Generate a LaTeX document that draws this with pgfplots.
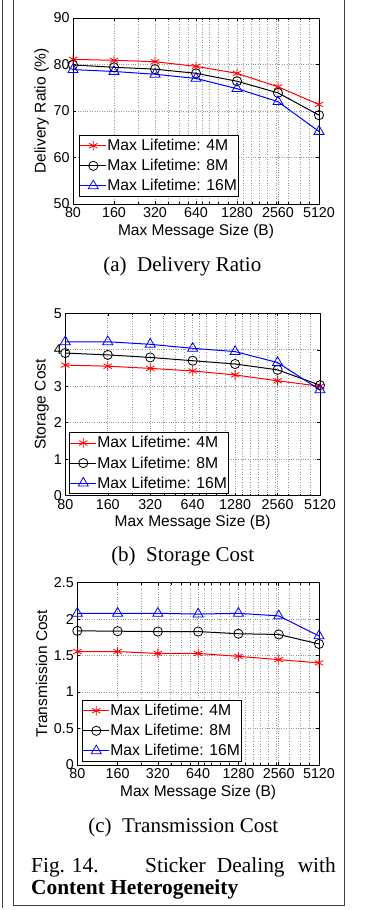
\documentclass[border=0pt]{standalone}
\usepackage{pgfplots}
\pgfplotsset{compat=1.18}
\usepackage{fontspec}
\setmainfont{Liberation Serif}
\newfontfamily\arial{Liberation Sans}
\definecolor{framegray}{HTML}{404040}

\pgfplotsset{
  mystyle/.style={
    scale only axis,
    xmin=0, xmax=6,
    xtick={0,1,2,3,4,5,6},
    xticklabels={80,160,320,640,1280,2560,5120},
    minor xtick={1.585,2.32,2.585,2.807,3.15,3.32,3.55,3.78,4.16,4.36,4.55,4.75,4.95,5.26,5.54,5.77},
    xmajorgrids, xminorgrids, ymajorgrids,
    grid style={dotted, gray!80, line width=0.6pt},
    minor grid style={dotted, gray!80, line width=0.6pt},
    tick align=inside,
    major tick length=3pt, minor tick length=2pt,
    axis line style={line width=0.6pt},
    every tick/.style={black, line width=0.5pt},
    tick label style={font=\fontsize{14.3}{16}\selectfont\arial},
    /pgf/number format/assume math mode=true,
    /pgf/number format/.cd, fixed, precision=1, /pgfplots/.cd,
    xlabel={Max Message Size (B)},
    every axis x label/.style={at={(axis description cs:0.5,0)}, anchor=center, yshift=-27pt, font=\fontsize{15.5}{17}\selectfont\arial},
    legend cell align=left,
    legend style={font=\fontsize{15.7}{17}\selectfont\arial, anchor=south west,
      inner sep=0.5pt, draw=black, line width=0.6pt, row sep=0pt,
      nodes={inner xsep=0.5pt, inner ysep=3.6pt}},
    legend image code/.code={\draw[mark repeat=2,mark phase=2,#1] plot coordinates {(0pt,0pt) (13pt,0pt) (26pt,0pt)};},
  },
  ylab/.style={every axis y label/.style={at={(axis description cs:0,0.5)}, anchor=center, xshift=#1, rotate=90, font=\fontsize{15.5}{17}\selectfont\arial}},
  s4/.style={red, line width=1pt, mark=asterisk, mark size=4.8pt, mark options={solid, line width=0.8pt}},
  s8/.style={black, line width=1pt, mark=o, mark size=4.6pt, mark options={solid, line width=0.8pt}},
  s16/.style={blue, line width=1pt, mark=triangle, mark size=5.8pt, mark options={solid, line width=0.8pt}},
}

\pgfplotstableread{
x a4 a8 a16
0 81.1 79.9 78.9
1 80.9 79.4 78.5
2 80.6 79.0 77.9
3 79.6 78.1 77.0
4 78.1 76.4 74.8
5 75.2 73.9 72.0
6 71.4 69.1 65.6
}\tabA

\pgfplotstableread{
x b4 b8 b16
0 3.58 3.91 4.22
1 3.55 3.86 4.22
2 3.49 3.79 4.15
3 3.42 3.70 4.04
4 3.31 3.61 3.95
5 3.15 3.45 3.65
6 3.00 3.03 2.90
}\tabB

\pgfplotstableread{
x c4 c8 c16
0 1.555 1.840 2.080
1 1.555 1.835 2.080
2 1.530 1.830 2.080
3 1.530 1.830 2.070
4 1.490 1.800 2.080
5 1.445 1.790 2.045
6 1.400 1.660 1.770
}\tabC

\begin{document}
\begin{tikzpicture}[x=1pt,y=1pt]
\useasboundingbox (0,0) rectangle (366,910);
\fill[white] (0,0) rectangle (366,910);
% frames
\draw[framegray, line width=1pt] (2.7,910) -- (2.7,2);
\draw[framegray, line width=1.2pt] (13.3,910) -- (13.3,4.5) -- (344.3,4.5) -- (344.3,910);

% (a)
\begin{axis}[mystyle, at={(73pt,706pt)}, anchor=south west, width=246pt, height=186pt,
  ymin=50, ymax=90, ytick={50,60,70,80,90},
  ylabel={Delivery Ratio (\%)}, ylab=-31.3pt,
  legend style={at={(axis description cs:0.0244,0.039)}}]
\addplot[s4] table[x=x,y=a4] {\tabA};
\addplot[s8] table[x=x,y=a8] {\tabA};
\addplot[s16] table[x=x,y=a16] {\tabA};
\legend{Max Lifetime: 4M, Max Lifetime: 8M, Max Lifetime: 16M}
\end{axis}

% (b)
\begin{axis}[mystyle, at={(65.3pt,414.3pt)}, anchor=south west, width=254.7pt, height=182.4pt,
  ymin=0, ymax=5, ytick={0,1,2,3,4,5},
  ylabel={Storage Cost}, ylab=-23.6pt,
  legend style={at={(axis description cs:0.0145,0.0093)}}]
\addplot[s4] table[x=x,y=b4] {\tabB};
\addplot[s8] table[x=x,y=b8] {\tabB};
\addplot[s16] table[x=x,y=b16] {\tabB};
\legend{Max Lifetime: 4M, Max Lifetime: 8M, Max Lifetime: 16M}
\end{axis}

% (c)
\begin{axis}[mystyle, at={(77.3pt,145pt)}, anchor=south west, width=241.7pt, height=182.3pt,
  ymin=0, ymax=2.5, ytick={0,0.5,1,1.5,2,2.5},
  ylabel={Transmission Cost}, ylab=-35.6pt,
  legend style={at={(axis description cs:0.0194,0.018)}}]
\addplot[s4] table[x=x,y=c4] {\tabC};
\addplot[s8] table[x=x,y=c8] {\tabC};
\addplot[s16] table[x=x,y=c16] {\tabC};
\legend{Max Lifetime: 4M, Max Lifetime: 8M, Max Lifetime: 16M}
\end{axis}

% captions
\node[anchor=base, font=\fontsize{21}{24}\selectfont, inner sep=0] at (182.3,638.3) {(a)\ \ Delivery Ratio};
\node[anchor=base, font=\fontsize{21}{24}\selectfont, inner sep=0] at (182.7,348.3) {(b)\ \ Storage Cost};
\node[anchor=base, font=\fontsize{21}{24}\selectfont, inner sep=0] at (183.3,77.7) {(c)\ \ Transmission Cost};
\node[anchor=base west, font=\fontsize{21.4}{24}\selectfont, inner sep=0] at (31,37.3) {Fig.};
\node[anchor=base west, font=\fontsize{21.4}{24}\selectfont, inner sep=0] at (71.7,37.3) {14.};
\node[anchor=base west, font=\fontsize{21.4}{24}\selectfont, inner sep=0] at (145,37.3) {Sticker};
\node[anchor=base west, font=\fontsize{21.4}{24}\selectfont, inner sep=0] at (216.7,37.3) {Dealing};
\node[anchor=base east, font=\fontsize{21.4}{24}\selectfont, inner sep=0] at (336,37.3) {with};
\node[anchor=base west, font=\fontsize{21.4}{24}\selectfont\bfseries, inner sep=0] at (31,15) {Content Heterogeneity};
\end{tikzpicture}
\end{document}
